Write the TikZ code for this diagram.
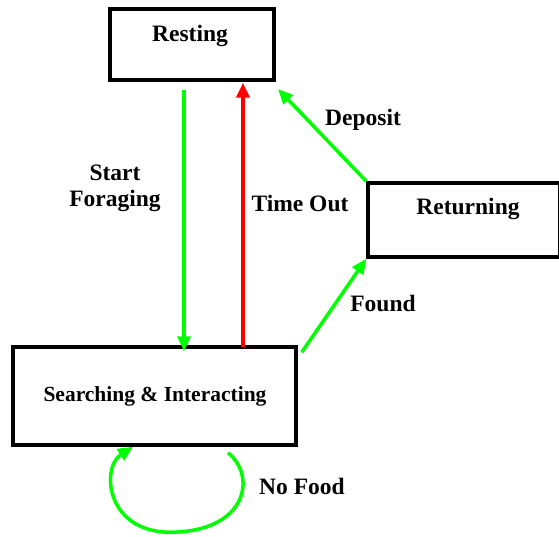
\documentclass[tikz,border=0pt]{standalone}
\usepackage{fontspec}
\setmainfont{Liberation Serif}
\usetikzlibrary{arrows.meta,calc}
\begin{document}
\begin{tikzpicture}[x=1pt,y=-1pt,
  statebox/.style={draw=black,line width=3.5pt,rectangle,inner sep=0pt},
  lbl/.style={font=\fontsize{23.5}{26}\selectfont\bfseries,inner sep=0pt,align=center},
  garrow/.style={draw={rgb,255:red,0;green,255;blue,0},line width=3.5pt,-{Triangle[length=15pt,width=13pt]}},
  rarrow/.style={draw={rgb,255:red,255;green,0;blue,0},line width=4.5pt,-{Triangle[length=15pt,width=13pt]}}]
\useasboundingbox (0,0) rectangle (559,537);
% boxes
\node[statebox,minimum width=164pt,minimum height=71pt] (rest) at (192,44.5) {};
\node[statebox,minimum width=192pt,minimum height=74pt] (ret) at (464,220) {};
\node[statebox,minimum width=283pt,minimum height=98pt] (search) at (154.5,396) {};
% box texts
\node[lbl] (restT) at (190,36) {Resting};
\node[lbl] (retT) at (468,209) {Returning};
\node[lbl,font=\fontsize{21.5}{24}\selectfont\bfseries] (searchT) at (155,396) {Searching \& Interacting};
% connector end points
\coordinate (sfA) at ($(rest.south)+(-8,8)$);
\coordinate (sfB) at ($(search.north)+(29.5,6)$);
\coordinate (toA) at ($(search.north)+(88.5,2)$);
\coordinate (toB) at ($(rest.south)+(51,1)$);
\coordinate (depB) at (278,89);
\coordinate (fA) at ($(search.north east)+(4,7)$);
\coordinate (loopA) at ($(search.south)+(73.5,6)$);
\coordinate (loopB) at ($(search.south)+(-21.5,0)$);
% arrows
\draw[garrow] (sfA) -- (sfB);
\draw[rarrow] (toA) -- (toB);
\draw[garrow] (ret.north west) -- (depB);
\draw[garrow] (fA) -- (ret.south west);
\draw[garrow] (loopA) .. controls (256,475) and (248,528) .. (178,532)
  .. controls (106,537) and (100,468) .. (loopB);
% labels
\node[lbl] (sfL) at (115,188) {Start\\Foraging};
\node[lbl] (toL) at (300,203) {Time Out};
\node[lbl] (depL) at (363,120) {Deposit};
\node[lbl] (fL) at (383,303) {Found};
\node[lbl] (nfL) at (302,486) {No Food};
\end{tikzpicture}
\end{document}
